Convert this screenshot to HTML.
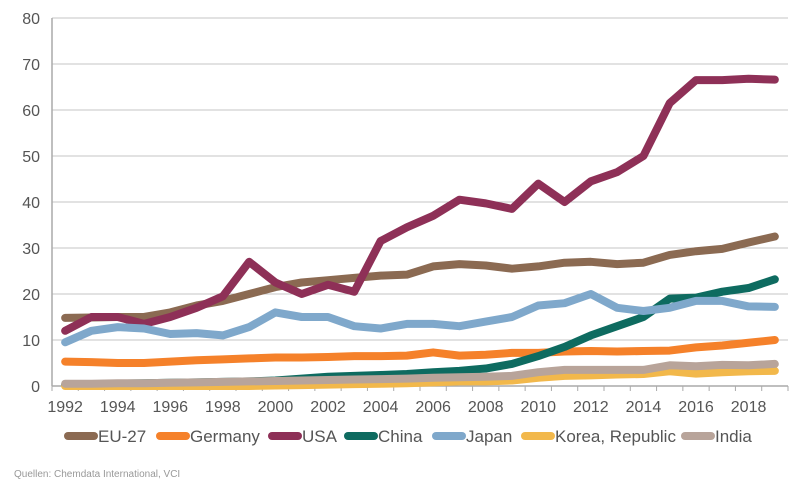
<!DOCTYPE html>
<html><head><meta charset="utf-8"><style>
body{margin:0;background:#fff;width:800px;height:487px;overflow:hidden;font-family:"Liberation Sans",sans-serif}
</style></head><body>
<svg id="chart" width="800" height="487" xmlns="http://www.w3.org/2000/svg"></svg>
<script>
const years=[1992,1993,1994,1995,1996,1997,1998,1999,2000,2001,2002,2003,2004,2005,2006,2007,2008,2009,2010,2011,2012,2013,2014,2015,2016,2017,2018,2019];
const yTicks=[0,10,20,30,40,50,60,70,80];
const seriesNames=["EU-27","Germany","USA","China","Japan","Korea, Republic","India"];
const eu=[14.8,14.9,15,15,16,17.5,18.5,20,21.5,22.5,23,23.5,24,24.2,26,26.5,26.2,25.5,26,26.8,27,26.5,26.8,28.5,29.3,29.8,31.2,32.5];
const germany=[5.3,5.2,5,5,5.3,5.6,5.8,6,6.2,6.2,6.3,6.5,6.5,6.6,7.3,6.6,6.8,7.2,7.2,7.5,7.6,7.5,7.6,7.7,8.4,8.8,9.4,10];
const usa=[12,15,15,13.5,15,17,19.5,27,22.5,20,22,20.5,31.5,34.5,37,40.5,39.7,38.5,44,40,44.5,46.5,50,61.5,66.5,66.5,66.8,66.6];
const china=[0.3,0.4,0.5,0.6,0.7,0.8,0.9,1,1.2,1.6,2,2.2,2.4,2.6,3,3.3,3.8,4.8,6.5,8.5,11,13,15,19,19.2,20.5,21.3,23.2];
const japan=[9.5,12,12.8,12.5,11.3,11.5,11,12.8,16,15,15,13,12.5,13.5,13.5,13,14,15,17.5,18,20,17,16.3,17,18.5,18.5,17.3,17.2];
const korea=[0,0,0,0,0,0,0,0,0.1,0.2,0.3,0.4,0.5,0.6,0.8,1,1,1.2,1.8,2.2,2.3,2.5,2.6,3.2,2.7,3,3.2,3.3];
const india=[0.5,0.5,0.6,0.6,0.7,0.8,0.9,1,1.1,1.2,1.3,1.4,1.5,1.6,1.8,1.9,2,2.2,3,3.5,3.5,3.5,3.5,4.5,4.3,4.6,4.5,4.8];
const colors=["#8B6A52","#F5812A","#8E3057","#0E6B60","#7FA8CB","#F2B84B","#B8A49A"];
const seriesData=[eu,germany,usa,china,japan,korea,india];
const NS="http://www.w3.org/2000/svg";
const svg=document.getElementById('chart');
const x0=52,x1=788,y0=386,y1=18,yMax=80;
const band=(x1-x0)/years.length;
const X=i=>x0+band*(i+0.5);
const Y=v=>y0-(v/yMax)*(y0-y1);
function mk(t,a){const e=document.createElementNS(NS,t);for(const k in a)e.setAttribute(k,a[k]);svg.appendChild(e);return e;}
yTicks.forEach(v=>{
  if(v>0){const g=mk('line',{x1:x0,x2:x1,y1:Y(v),y2:Y(v),stroke:'#c4c4c4','stroke-width':1});
  
  }
  const t=mk('text',{x:x0-12,y:Y(v)+6,'text-anchor':'end','font-size':16,fill:'#555'});
  t.textContent=v;
  
  
});
const ax=mk('line',{x1:x0,x2:x1,y1:y0,y2:y0,stroke:'#aaa','stroke-width':1.5});


const ay=mk('line',{x1:x0,x2:x0,y1:y1,y2:y0,stroke:'#aaa','stroke-width':1.5});


for(let i=0;i<=years.length;i++){const tk=mk('line',{x1:x0+band*i,x2:x0+band*i,y1:y0,y2:y0+5,stroke:'#aaa'});

}
years.forEach((yr,i)=>{if(i%2===0){const t=mk('text',{x:X(i),y:y0+26,'text-anchor':'middle','font-size':16,fill:'#555'});
t.textContent=yr;

}});
seriesData.forEach((d,s)=>{
  const p=mk('polyline',{points:d.map((v,i)=>X(i)+','+Y(v)).join(' '),fill:'none',stroke:colors[s],'stroke-width':8,'stroke-linejoin':'round','stroke-linecap':'round'});
  
  
});
const legX=[68,160,272,348,436,525,685];
seriesNames.forEach((n,s)=>{
  const l=mk('line',{x1:legX[s],x2:legX[s]+26,y1:436,y2:436,stroke:colors[s],'stroke-width':8,'stroke-linecap':'round'});
  
  
  const t=mk('text',{x:legX[s]+30,y:442,'font-size':17,fill:'#555'});
  t.textContent=n;
  
  
});
const src=mk('text',{x:14,y:477,'font-size':10,fill:'#999'});
src.textContent='Quellen: Chemdata International, VCI';


</script>
</body></html>
